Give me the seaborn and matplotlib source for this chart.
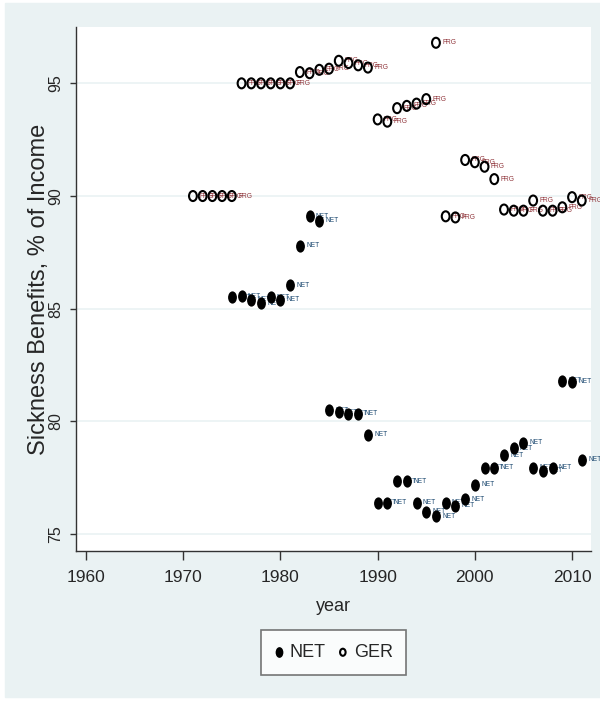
import numpy as np
import pandas as pd
import matplotlib
matplotlib.use("Agg")
import matplotlib.pyplot as plt
from matplotlib.path import Path
from matplotlib.patches import Rectangle
import seaborn as sns

# values
net_years = list(range(1975, 2012))
net_values = [85.5, 85.55, 85.4, 85.25, 85.5, 85.4, 86.05, 87.8, 89.1, 88.9,
              80.5, 80.4, 80.35, 80.35, 79.4, 76.4, 76.4, 77.35, 77.35, 76.4,
              76.0, 75.8, 76.4, 76.25, 76.55, 77.2, 77.95, 77.95, 78.5, 78.8,
              79.05, 77.95, 77.8, 77.95, 81.8, 81.75, 78.3]

ger_years = list(range(1971, 2012))
ger_values = [90.0, 90.0, 90.0, 90.0, 90.0,
              95.0, 95.0, 95.0, 95.0, 95.0, 95.0,
              95.5, 95.45, 95.6, 95.65, 96.0, 95.9, 95.8, 95.7,
              93.4, 93.3, 93.9, 94.0, 94.1, 94.3,
              96.8,
              89.1, 89.05,
              91.6, 91.5, 91.3, 90.75,
              89.4, 89.35, 89.35, 89.8, 89.35, 89.35, 89.5, 89.95, 89.8]

net_label = "NET"
ger_label = "FRG"
x_ticks = [1960, 1970, 1980, 1990, 2000, 2010]
y_ticks = [75, 80, 85, 90, 95]

net = pd.DataFrame({"year": net_years, "value": net_values})
ger = pd.DataFrame({"year": ger_years, "value": ger_values})

sns.set_style("white")
plt.rcParams["font.family"] = ["Liberation Sans", "DejaVu Sans"]

bg = "#eaf2f3"
navy = "#1a476f"
maroon = "#90353b"

# squeezed circle, the reference looks stretched vertically
circ = Path.unit_circle()
ell = Path(circ.vertices * np.array([0.72, 1.0]), circ.codes)
ell_open = Path(circ.vertices * np.array([0.78, 1.0]), circ.codes)

fig = plt.figure(figsize=(6, 7.07), dpi=100, facecolor="white")
fig.patches.append(Rectangle((5 / 600, 10 / 707), 595 / 600, 694 / 707,
                             transform=fig.transFigure, color=bg, zorder=-10))

ax = fig.add_axes([76 / 600, 1 - 551 / 707, 515 / 600, 524 / 707])
ax.set_facecolor("white")

sns.scatterplot(data=net, x="year", y="value", marker=ell, s=78,
                color="black", edgecolor="black", linewidth=0, label="NET",
                ax=ax, zorder=3)
sns.scatterplot(data=ger, x="year", y="value", marker=ell_open, s=52,
                facecolors="none", edgecolor="black", linewidth=1.5,
                label="GER", ax=ax, zorder=3)

# point labels at 3 o'clock
for yr, v in zip(net_years, net_values):
    ax.annotate(net_label, (yr, v), xytext=(4.5, 0), textcoords="offset points",
                ha="left", va="center", fontsize=4.8, color=navy, zorder=2)
for yr, v in zip(ger_years, ger_values):
    ax.annotate(ger_label, (yr, v), xytext=(4.5, 0), textcoords="offset points",
                ha="left", va="center", fontsize=4.8, color=maroon, zorder=2)

ax.set_xlim(1958.97, 2011.95)
ax.set_ylim(74.25, 97.5)
ax.set_xticks(x_ticks)
ax.set_yticks(y_ticks)
ax.yaxis.grid(True, color=bg, lw=1.2)
ax.set_axisbelow(True)

for side in ["top", "right"]:
    ax.spines[side].set_visible(False)
for side in ["left", "bottom"]:
    ax.spines[side].set_color("#333333")
    ax.spines[side].set_linewidth(1.0)

ax.tick_params(axis="x", length=6.5, width=1, color="#333333", pad=7,
               labelsize=12.5, bottom=True)
ax.tick_params(axis="y", length=4.5, width=1, color="#333333", pad=5,
               labelsize=11.5, labelrotation=90, left=True)
for t in ax.get_yticklabels():
    t.set_va("center")

ax.set_xlabel("year", fontsize=13)
ax.set_ylabel("Sickness Benefits, % of Income", fontsize=17)
ax.xaxis.set_label_coords(0.5, -0.09)
ax.yaxis.set_label_coords(-0.05, 0.5)

leg = ax.legend(loc="center", bbox_to_anchor=(333.5 / 600, 1 - 652.5 / 707),
                bbox_transform=fig.transFigure, ncol=2, fontsize=13,
                frameon=True, fancybox=False, edgecolor="#555555",
                handletextpad=0.35, columnspacing=0.7,
                borderpad=0.75, handlelength=0.5, borderaxespad=0)
leg.get_frame().set_linewidth(1.2)
leg.legend_handles[0].set_sizes([60])
leg.legend_handles[1].set_sizes([26])

fig.savefig("out.png", dpi=100, facecolor=fig.get_facecolor())
